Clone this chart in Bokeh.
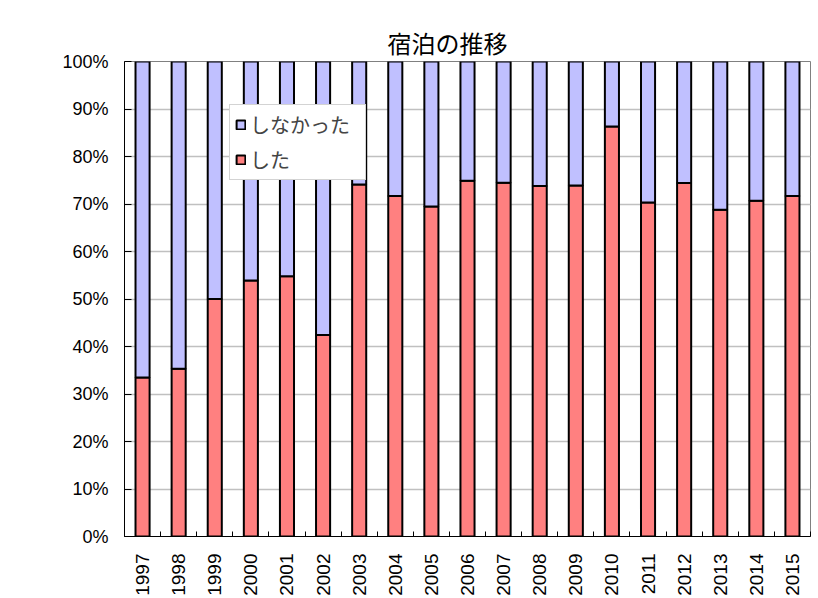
import math
from bokeh.plotting import figure
from bokeh.models import (Legend, LegendItem, FixedTicker, PrintfTickFormatter,
                          ColumnDataSource, Range1d)
from bokeh.embed import file_html
from bokeh.resources import INLINE

# ---- data ----
years = [1997, 1998, 1999, 2000, 2001, 2002, 2003, 2004, 2005, 2006,
         2007, 2008, 2009, 2010, 2011, 2012, 2013, 2014, 2015]
shita = [33.5, 35.3, 50.0, 53.9, 54.8, 42.4, 74.1, 71.7, 69.5, 74.9,
         74.5, 73.8, 73.9, 86.3, 70.3, 74.4, 68.8, 70.7, 71.7]          # した (%)
shinakatta = [66.5, 64.7, 50.0, 46.1, 45.2, 57.6, 25.9, 28.3, 30.5, 25.1,
              25.5, 26.2, 26.1, 13.7, 29.7, 25.6, 31.2, 29.3, 28.3]     # しなかった (%)
y_ticks = [0, 10, 20, 30, 40, 50, 60, 70, 80, 90, 100]
title_text = "宿泊の推移"
series_names = ["した", "しなかった"]
colors = ["#FF8080", "#C0C0FF"]

src = ColumnDataSource(dict(year=years, した=shita, しなかった=shinakatta))

p = figure(width=818, height=598, output_backend="svg", toolbar_location=None,
           x_range=Range1d(years[0] - 0.5, years[-1] + 0.5),
           y_range=Range1d(0, 100),
           min_border_left=124, min_border_right=8,
           min_border_top=61, min_border_bottom=62)

renderers = p.vbar_stack(series_names, x="year", width=0.39, source=src,
                         fill_color=colors, line_color="black", line_width=2)

# title
p.title.text = title_text
p.title.text_font = "Noto Sans CJK JP"
p.title.text_font_size = "24px"
p.title.text_font_style = "normal"
p.title.text_color = "#000000"
p.title.align = "left"
p.title.offset = 263
p.title.standoff = 4

# axes
p.yaxis.ticker = FixedTicker(ticks=y_ticks)
p.yaxis.formatter = PrintfTickFormatter(format="%d%%")
p.yaxis.major_label_text_font = "Liberation Sans"
p.yaxis.major_label_text_font_size = "18px"
p.yaxis.major_label_text_color = "#000000"
p.yaxis.major_tick_in = 7
p.yaxis.major_tick_out = 0
p.yaxis.minor_tick_line_color = None
p.yaxis.major_label_standoff = 16
p.yaxis.axis_line_color = "#000000"

p.xaxis.ticker = FixedTicker(ticks=years,
                             minor_ticks=[y - 0.5 for y in years] + [years[-1] + 0.5])
p.xaxis.formatter = PrintfTickFormatter(format="%d")
p.xaxis.major_label_orientation = math.pi / 2
p.xaxis.major_label_text_font = "Liberation Sans"
p.xaxis.major_label_text_font_size = "19px"
p.xaxis.major_label_text_color = "#000000"
p.xaxis.major_tick_line_color = None
p.xaxis.minor_tick_in = 5
p.xaxis.minor_tick_out = 0
p.xaxis.minor_tick_line_color = "#000000"
p.xaxis.major_label_standoff = 11
p.xaxis.axis_line_color = "#000000"

# grid / frame
p.xgrid.grid_line_color = None
p.ygrid.grid_line_color = "#C0C0C0"
p.ygrid.grid_line_width = 1.5
p.outline_line_color = "#808080"
p.background_fill_color = "white"
p.border_fill_color = "white"

# legend (しなかった first, then した)
legend = Legend(items=[LegendItem(label=series_names[1], renderers=[renderers[1]]),
                       LegendItem(label=series_names[0], renderers=[renderers[0]])],
                location=(105, 356), orientation="vertical",
                label_text_font="Noto Sans CJK JP", label_text_font_size="20px",
                glyph_width=11, glyph_height=11, label_standoff=4,
                label_height=22, label_width=110, spacing=6, padding=5, margin=0,
                border_line_color="#A8A8A8", border_line_width=1,
                background_fill_color="white", background_fill_alpha=1.0)
p.add_layout(legend, "center")

open("out.html", "w").write(file_html(p, INLINE))
